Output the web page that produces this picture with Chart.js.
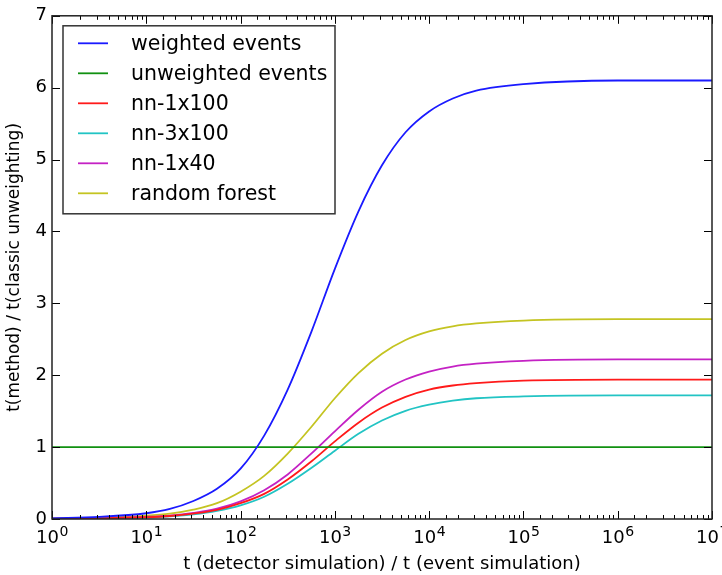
<!DOCTYPE html>
<html>
<head>
<meta charset="utf-8">
<script src="https://cdn.jsdelivr.net/npm/chart.js@4.4.1/dist/chart.umd.min.js"></script>
<style>
  html, body { margin: 0; padding: 0; background: #fff; overflow: hidden; }
  #wrap { position: relative; width: 745px; height: 575px; }
</style>
</head>
<body>
<div id="wrap"><canvas id="chart"></canvas></div>
<script>
// ratio of detector time to event generation time (log axis)
const detRatio = [1, 3.16, 10, 17.8, 31.6, 56.2, 100, 178, 316, 562, 1000, 1780, 3160, 5620, 10000, 17800, 31600, 100000, 1000000, 10000000];

// t(method) / t(classic unweighting)
const weightedEvents   = [0.01, 0.03, 0.08, 0.14, 0.25, 0.42, 0.70, 1.16, 1.80, 2.60, 3.48, 4.28, 4.92, 5.38, 5.67, 5.85, 5.96, 6.05, 6.10, 6.10];
const unweightedEvents = [1, 1, 1, 1, 1, 1, 1, 1, 1, 1, 1, 1, 1, 1, 1, 1, 1, 1, 1, 1];
const nn1x100          = [0.005, 0.01, 0.025, 0.042, 0.075, 0.127, 0.22, 0.35, 0.55, 0.80, 1.08, 1.34, 1.55, 1.70, 1.80, 1.857, 1.89, 1.925, 1.94, 1.94];
const nn3x100          = [0.005, 0.01, 0.02, 0.037, 0.065, 0.113, 0.19, 0.31, 0.49, 0.71, 0.95, 1.185, 1.37, 1.505, 1.59, 1.646, 1.68, 1.705, 1.72, 1.72];
const nn1x40           = [0.005, 0.01, 0.03, 0.048, 0.085, 0.143, 0.245, 0.40, 0.62, 0.91, 1.22, 1.52, 1.77, 1.94, 2.05, 2.12, 2.16, 2.20, 2.22, 2.22];
const randomForest     = [0.006, 0.015, 0.045, 0.074, 0.13, 0.22, 0.38, 0.60, 0.91, 1.28, 1.68, 2.03, 2.30, 2.49, 2.61, 2.68, 2.72, 2.76, 2.78, 2.78];

const seriesNames  = ['weighted events', 'unweighted events', 'nn-1x100', 'nn-3x100', 'nn-1x40', 'random forest'];
const seriesValues = [weightedEvents, unweightedEvents, nn1x100, nn3x100, nn1x40, randomForest];
const seriesColors = ['#1a1aff', '#119111', '#ff1a1a', '#22c4c4', '#c422c4', '#c4c422'];

const yTicks = [0, 1, 2, 3, 4, 5, 6, 7];

const FONT = 'DejaVu Sans';

function isDecade(v) {
  const e = Math.log10(v);
  return Math.abs(e - Math.round(e)) < 1e-6;
}

// matplotlib-like frame with inward ticks on all four sides
const framePlugin = {
  id: 'frame',
  afterDatasetsDraw(chart) {
    const { ctx, chartArea: a, scales } = chart;
    ctx.save();
    ctx.strokeStyle = '#000';
    ctx.lineWidth = 1;
    scales.x.ticks.forEach(t => {
      const px = Math.round(scales.x.getPixelForValue(t.value)) + 0.5;
      const len = isDecade(t.value) ? 8 : 4;
      ctx.beginPath();
      ctx.moveTo(px, a.bottom); ctx.lineTo(px, a.bottom - len);
      ctx.moveTo(px, a.top); ctx.lineTo(px, a.top + len);
      ctx.stroke();
    });
    scales.y.ticks.forEach(t => {
      const py = Math.round(scales.y.getPixelForValue(t.value)) + 0.5;
      ctx.beginPath();
      ctx.moveTo(a.left, py); ctx.lineTo(a.left + 8, py);
      ctx.moveTo(a.right, py); ctx.lineTo(a.right - 8, py);
      ctx.stroke();
    });
    ctx.lineWidth = 1.5;
    ctx.strokeStyle = '#222';
    ctx.strokeRect(a.left, a.top, a.right - a.left, a.bottom - a.top);

    // decade labels 10^n with a raised exponent
    ctx.fillStyle = '#000';
    ctx.textBaseline = 'alphabetic';
    ctx.textAlign = 'left';
    scales.x.ticks.forEach(t => {
      if (!isDecade(t.value)) return;
      const px = scales.x.getPixelForValue(t.value);
      const exp = String(Math.round(Math.log10(t.value)));
      ctx.font = '18px "' + FONT + '"';
      const wBase = ctx.measureText('10').width;
      ctx.font = '14px "' + FONT + '"';
      const wExp = ctx.measureText(exp).width;
      const x0 = px - (wBase + wExp) / 2;
      ctx.font = '18px "' + FONT + '"';
      ctx.fillText('10', x0, a.bottom + 24);
      ctx.font = '14px "' + FONT + '"';
      ctx.fillText(exp, x0 + wBase + 0.5, a.bottom + 17);
    });
    ctx.restore();
  }
};

// boxed legend in the upper left corner of the plot
const legendBoxPlugin = {
  id: 'legendBox',
  afterDraw(chart) {
    const { ctx, chartArea: a } = chart;
    const bx = a.left + 11, by = a.top + 10, bw = 272, bh = 188;
    ctx.save();
    ctx.fillStyle = '#fff';
    ctx.fillRect(bx, by, bw, bh);
    ctx.strokeStyle = '#333';
    ctx.lineWidth = 1.5;
    ctx.strokeRect(bx, by, bw, bh);
    ctx.font = '20.5px "' + FONT + '"';
    ctx.textBaseline = 'middle';
    chart.data.datasets.forEach((ds, i) => {
      const y = by + 17.5 + i * 30;
      ctx.strokeStyle = ds.borderColor;
      ctx.lineWidth = 1.8;
      ctx.beginPath();
      ctx.moveTo(bx + 15, y); ctx.lineTo(bx + 45, y);
      ctx.stroke();
      ctx.fillStyle = '#000';
      ctx.fillText(ds.label, bx + 68, y + 1);
    });
    ctx.restore();
  }
};

new Chart(document.getElementById('chart'), {
  type: 'line',
  data: {
    datasets: seriesNames.map((name, i) => ({
      label: name,
      data: detRatio.map((x, j) => ({ x: x, y: seriesValues[i][j] })),
      borderColor: seriesColors[i],
      backgroundColor: seriesColors[i],
      borderWidth: 1.8,
      pointRadius: 0,
      cubicInterpolationMode: 'monotone',
      fill: false
    }))
  },
  options: {
    responsive: true,
    maintainAspectRatio: false,
    animation: false,
    layout: { padding: { top: 13, right: 33, left: 0, bottom: 0 } },
    plugins: {
      legend: { display: false },
      tooltip: { enabled: false }
    },
    scales: {
      x: {
        type: 'logarithmic',
        min: 1,
        max: 10000000,
        grid: { display: false, drawTicks: false, tickLength: 0 },
        border: { display: false },
        afterFit: s => { s.height = 56; },
        ticks: {
          autoSkip: false,
          maxRotation: 0,
          padding: 11,
          color: '#000',
          font: { family: FONT, size: 18 },
          callback: () => ''
        },
        title: {
          display: true,
          text: 't (detector simulation) / t (event simulation)',
          color: '#000',
          font: { family: FONT, size: 18 },
          padding: { top: 0, bottom: 0 }
        }
      },
      y: {
        min: yTicks[0],
        max: yTicks[yTicks.length - 1],
        grid: { display: false, drawTicks: false, tickLength: 0 },
        border: { display: false },
        afterFit: s => { s.width = 52; },
        afterBuildTicks: s => { s.ticks = yTicks.map(v => ({ value: v })); },
        ticks: {
          padding: 5,
          color: '#000',
          font: { family: FONT, size: 18 }
        },
        title: {
          display: true,
          text: 't(method) / t(classic unweighting)',
          color: '#000',
          font: { family: FONT, size: 17 },
          padding: { top: 4, bottom: 0 }
        }
      }
    }
  },
  plugins: [framePlugin, legendBoxPlugin]
});
</script>
</body>
</html>
